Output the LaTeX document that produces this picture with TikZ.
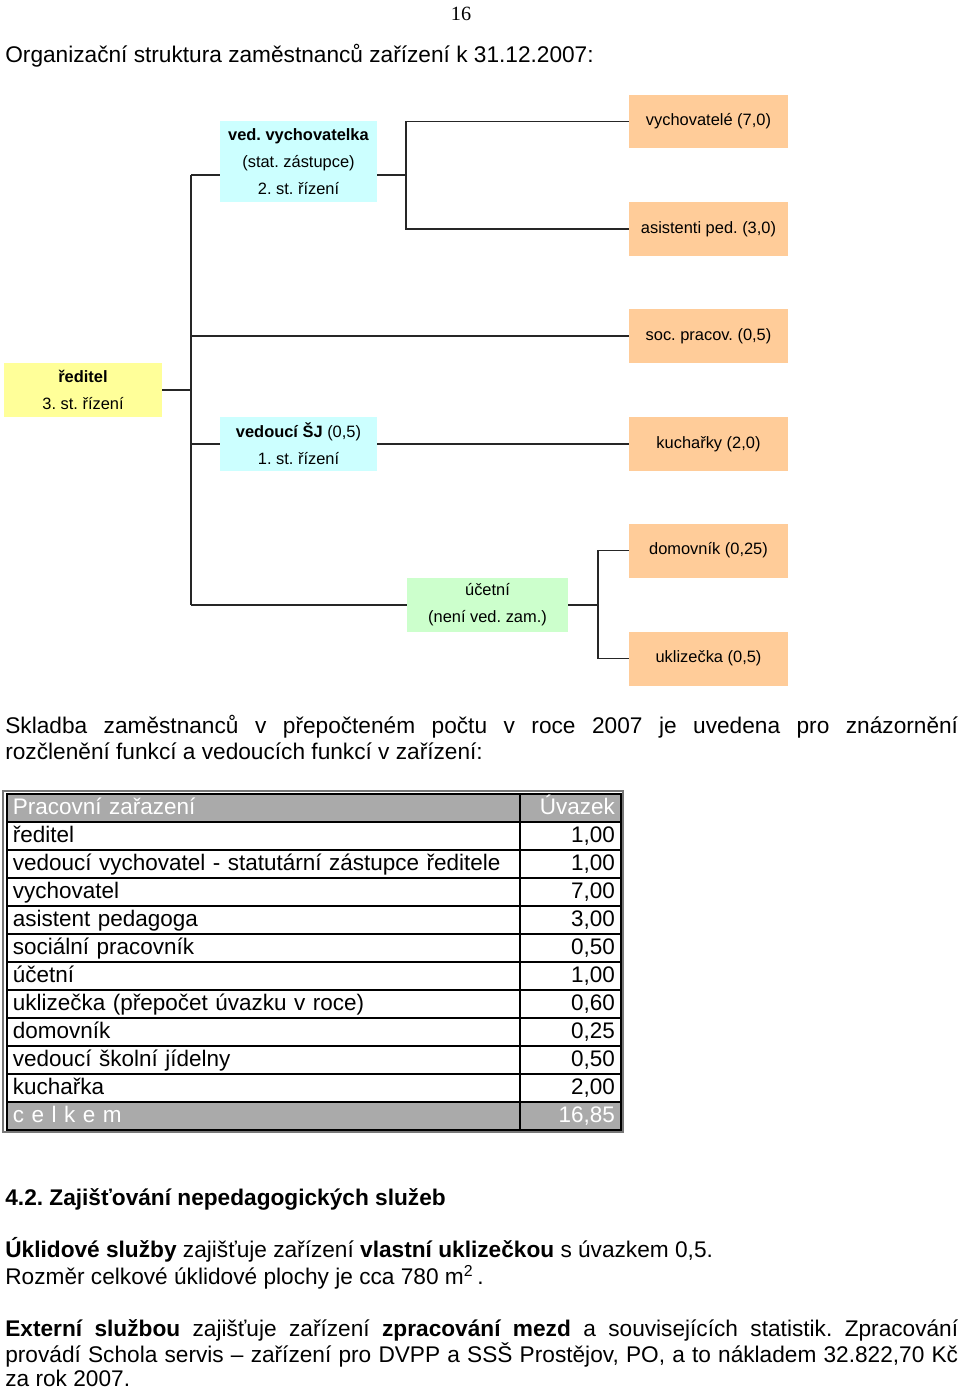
\documentclass[tikz,border=0pt]{standalone}
\usepackage{fontspec}
\setmainfont{Liberation Sans}
\newfontfamily\pagefont{Liberation Serif}
\frenchspacing

\definecolor{bossyellow}{RGB}{255,255,153}
\definecolor{leadblue}{RGB}{204,255,255}
\definecolor{clerkgreen}{RGB}{204,255,204}
\definecolor{workerorange}{RGB}{255,204,153}
\definecolor{sumgray}{RGB}{170,170,170}

\newcommand{\bodyfont}{\fontsize{12.9}{14.7}\selectfont}
\newcommand{\boxfont}{\fontsize{9.35}{15.3}\selectfont}
\newcommand{\cellfont}{\fontsize{12.8}{15}\selectfont}

\tikzstyle{boss} = [rectangle, align=center, fill=bossyellow, minimum width=3.16cm, minimum height=1.08cm, inner sep=0pt, font=\boxfont]
\tikzstyle{lead} = [rectangle, align=center, fill=leadblue, minimum width=3.14cm, minimum height=1.08cm, inner sep=0pt, font=\boxfont]
\tikzstyle{clerk} = [rectangle, align=center, fill=clerkgreen, minimum width=3.22cm, minimum height=1.08cm, inner sep=0pt, font=\boxfont]
\tikzstyle{worker} = [rectangle, align=center, fill=workerorange, minimum width=3.18cm, minimum height=1.08cm, inner sep=0pt, font=\boxfont]
\tikzstyle{org_line} = [line width=0.8pt, black!85]
\tikzstyle{text_line} = [anchor=base west, inner sep=0pt, font=\bodyfont]
\tikzstyle{job_cell} = [rectangle, draw=black, line width=1pt, anchor=north west, minimum width=10.26cm, minimum height=0.56cm, text width=10.02cm, inner xsep=0.12cm, inner ysep=0pt, text height=0.38cm, text depth=0.1cm, align=left, font=\cellfont]
\tikzstyle{fte_cell} = [rectangle, draw=black, line width=1pt, anchor=north west, minimum width=2.02cm, minimum height=0.56cm, text width=1.78cm, inner xsep=0.12cm, inner ysep=0pt, text height=0.38cm, text depth=0.1cm, align=right, font=\cellfont]
\tikzstyle{sum_row} = [fill=sumgray, text=white]

\begin{document}
\begin{tikzpicture}[x=0.02cm, y=-0.02cm]

    \useasboundingbox (0,0) rectangle (960,1390);

    \node (page_no) [anchor=base, inner sep=0pt, font=\pagefont\fontsize{11.5}{13}\selectfont] at (461,20) {16};
    \node (title) [text_line] at (5,62) {Organizační struktura zaměstnanců zařízení k 31.12.2007:};

    % org chart
    \node (reditel) [boss] at (83,390) {\textbf{ředitel}\\3. st. řízení};
    \node (vedvych) [lead, minimum height=1.62cm] at (298.5,161.5) {\textbf{ved. vychovatelka}\\(stat. zástupce)\\2. st. řízení};
    \node (vedsj) [lead] at (298.5,444) {\textbf{vedoucí ŠJ} (0,5)\\1. st. řízení};
    \node (ucetni) [clerk] at (487.5,605) {účetní\\(není ved. zam.)};

    \node (vychovatele) [worker] at (708.5,121.5) {vychovatelé (7,0)};
    \node (asistenti) [worker] at (708.5,229) {asistenti ped. (3,0)};
    \node (socprac) [worker] at (708.5,336) {soc. pracov. (0,5)};
    \node (kucharky) [worker] at (708.5,444) {kuchařky (2,0)};
    \node (domovnik) [worker] at (708.5,550.5) {domovník (0,25)};
    \node (uklizecka) [worker] at (708.5,658.5) {uklizečka (0,5)};

    \coordinate (trunk_top) at (191,175);
    \coordinate (trunk_bot) at (191,605);
    \coordinate (vv_fork) at (406,175);
    \coordinate (uc_fork) at (598,605);

    \draw [org_line] (trunk_top) -- (trunk_bot);
    \draw [org_line] (reditel.east) -- (reditel.east -| trunk_top);
    \draw [org_line] (trunk_top) -- (vedvych.west |- trunk_top);
    \draw [org_line] (trunk_top |- socprac.west) -- (socprac.west);
    \draw [org_line] (trunk_top |- vedsj.west) -- (vedsj.west);
    \draw [org_line] (trunk_bot) -- (ucetni.west);

    \draw [org_line] (vedvych.east |- vv_fork) -- (vv_fork);
    \draw [org_line] (vychovatele.west) -| (vv_fork) |- (asistenti.west);
    \draw [org_line] (vedsj.east) -- (kucharky.west);
    \draw [org_line] (ucetni.east) -- (uc_fork);
    \draw [org_line] (domovnik.west) -| (uc_fork) |- (uklizecka.west);

    \node (skladba_a) [text_line] at (5,733) {\makebox[19.06cm][s]{Skladba zaměstnanců v přepočteném počtu v roce 2007 je uvedena pro znázornění}};
    \node (skladba_b) [text_line] at (5,759) {rozčlenění funkcí a vedoucích funkcí v zařízení:};

    % table
    \draw [sumgray!70!black, line width=0.6pt] (3,791) rectangle (623,1132);

    \node (job_head) [job_cell, sum_row] at (6,793) {Pracovní zařazení};
    \node (fte_head) [fte_cell, sum_row] at (519,793) {Úvazek};
    \node (job1) [job_cell] at (6,821) {ředitel};
    \node (fte1) [fte_cell] at (519,821) {1,00};
    \node (job2) [job_cell] at (6,849) {vedoucí vychovatel - statutární zástupce ředitele};
    \node (fte2) [fte_cell] at (519,849) {1,00};
    \node (job3) [job_cell] at (6,877) {vychovatel};
    \node (fte3) [fte_cell] at (519,877) {7,00};
    \node (job4) [job_cell] at (6,905) {asistent pedagoga};
    \node (fte4) [fte_cell] at (519,905) {3,00};
    \node (job5) [job_cell] at (6,933) {sociální pracovník};
    \node (fte5) [fte_cell] at (519,933) {0,50};
    \node (job6) [job_cell] at (6,961) {účetní};
    \node (fte6) [fte_cell] at (519,961) {1,00};
    \node (job7) [job_cell] at (6,989) {uklizečka (přepočet úvazku v roce)};
    \node (fte7) [fte_cell] at (519,989) {0,60};
    \node (job8) [job_cell] at (6,1017) {domovník};
    \node (fte8) [fte_cell] at (519,1017) {0,25};
    \node (job9) [job_cell] at (6,1045) {vedoucí školní jídelny};
    \node (fte9) [fte_cell] at (519,1045) {0,50};
    \node (job10) [job_cell] at (6,1073) {kuchařka};
    \node (fte10) [fte_cell] at (519,1073) {2,00};
    \node (job_total) [job_cell, sum_row] at (6,1101) {c e l k e m};
    \node (fte_total) [fte_cell, sum_row] at (519,1101) {16,85};

    % section 4.2
    \node (sect) [text_line, font=\bodyfont\bfseries] at (5,1205) {4.2. Zajišťování nepedagogických služeb};
    \node (uklid_a) [text_line] at (5,1257) {\textbf{Úklidové služby} zajišťuje zařízení \textbf{vlastní uklizečkou} s úvazkem 0,5.};
    \node (uklid_b) [text_line] at (5,1284) {Rozměr celkové úklidové plochy je cca 780 m\textsuperscript{2}\,.};
    \node (extern_a) [text_line] at (5,1336) {\makebox[19.06cm][s]{\textbf{Externí službou} zajišťuje zařízení \textbf{zpracování mezd} a souvisejících statistik. Zpracování}};
    \node (extern_b) [text_line] at (5,1362) {\makebox[19.06cm][s]{provádí Schola servis – zařízení pro DVPP a SSŠ Prostějov, PO, a to nákladem 32.822,70 Kč}};
    \node (extern_c) [text_line] at (5,1386) {za rok 2007.};

\end{tikzpicture}
\end{document}
